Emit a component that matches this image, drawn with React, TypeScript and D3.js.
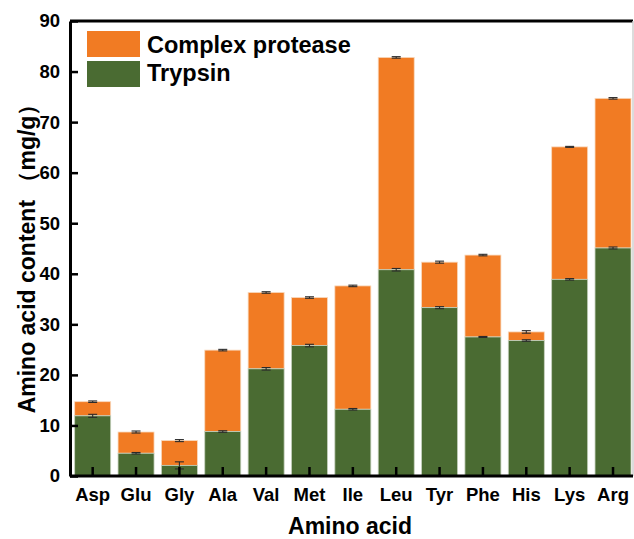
import React, { useRef, useEffect } from 'react';
import * as d3 from 'd3';

// amino acids on x axis
const categories = ['Asp', 'Glu', 'Gly', 'Ala', 'Val', 'Met', 'Ile', 'Leu', 'Tyr', 'Phe', 'His', 'Lys', 'Arg'];
// bottom segment (Trypsin)
const trypsin = [11.9, 4.5, 2.1, 8.8, 21.2, 25.8, 13.2, 40.8, 33.3, 27.5, 26.8, 38.9, 45.1];
const trypsinErr = [0.3, 0.15, 0.7, 0.15, 0.25, 0.25, 0.15, 0.25, 0.2, 0.1, 0.15, 0.15, 0.2];
// top segment (Complex protease), added on top of trypsin
const complexProtease = [2.8, 4.2, 4.9, 16.1, 15.1, 9.5, 24.4, 42.0, 9.0, 16.2, 1.7, 26.2, 29.6];
const complexErr = [0.15, 0.2, 0.2, 0.15, 0.15, 0.15, 0.15, 0.15, 0.2, 0.15, 0.25, 0.1, 0.15];
const yTicks = [0, 10, 20, 30, 40, 50, 60, 70, 80, 90];

const ORANGE = '#F17B23';
const GREEN = '#4A6B32';
const FONT = 'Arial, "Liberation Sans", sans-serif';

const App = () => {
  const svgRef = useRef<SVGSVGElement>(null);
  const width = 634;
  const height = 539;
  const margin = { top: 21, right: 0, bottom: 63, left: 70 };

  useEffect(() => {
    const svg = d3.select(svgRef.current);
    svg.selectAll('*').remove();

    const x = d3.scaleBand().domain(categories).range([71, 634.7]).paddingInner(0.17).paddingOuter(0.085);
    const y = d3.scaleLinear().domain([0, 90]).range([height - margin.bottom, margin.top]);
    const bottomY = height - margin.bottom;

    const rows = categories.map((c, i) => ({
      c,
      t: trypsin[i],
      te: trypsinErr[i],
      total: trypsin[i] + complexProtease[i],
      ce: complexErr[i],
    }));

    // frame lines (top black, right light grey)
    svg.append('line').attr('x1', margin.left).attr('x2', 633).attr('y1', margin.top).attr('y2', margin.top)
      .attr('stroke', '#000').attr('stroke-width', 3);
    svg.append('line').attr('x1', 633).attr('x2', 633).attr('y1', margin.top).attr('y2', bottomY)
      .attr('stroke', '#d0d0d0').attr('stroke-width', 1.5);

    // bars
    const g = svg.append('g');
    g.selectAll('.top').data(rows).enter().append('rect')
      .attr('x', d => x(d.c)!)
      .attr('width', x.bandwidth())
      .attr('y', d => y(d.total))
      .attr('height', d => y(d.t) - y(d.total))
      .attr('fill', ORANGE)
      .attr('stroke', '#f8d9bd').attr('stroke-width', 0.8);
    g.selectAll('.bot').data(rows).enter().append('rect')
      .attr('x', d => x(d.c)!)
      .attr('width', x.bandwidth())
      .attr('y', d => y(d.t))
      .attr('height', d => bottomY - y(d.t))
      .attr('fill', GREEN)
      .attr('stroke', '#c5d0bd').attr('stroke-width', 0.8);

    // error bars
    const drawErr = (cx: number, v: number, e: number) => {
      const eg = svg.append('g').attr('stroke', '#2a2a2a').attr('stroke-width', 1.1);
      eg.append('line').attr('x1', cx).attr('x2', cx).attr('y1', y(v - e)).attr('y2', y(v + e));
      [v - e, v + e].forEach(k => {
        eg.append('line').attr('x1', cx - 4.5).attr('x2', cx + 4.5).attr('y1', y(k)).attr('y2', y(k));
      });
    };
    rows.forEach(d => {
      const cx = x(d.c)! + x.bandwidth() / 2;
      drawErr(cx, d.t, d.te);
      drawErr(cx, d.total, d.ce);
    });

    // y axis
    const ya = svg.append('g').attr('transform', `translate(${margin.left},0)`)
      .call(d3.axisLeft(y).tickValues(yTicks).tickSizeInner(-8).tickSizeOuter(0).tickPadding(10));
    ya.select('.domain').attr('stroke', '#000').attr('stroke-width', 3);
    ya.selectAll('.tick line').attr('stroke-width', 2.5);
    ya.selectAll('text').attr('font-family', FONT).attr('font-weight', 'bold').attr('font-size', 18.5).attr('fill', '#000');

    // x axis
    const xa = svg.append('g').attr('transform', `translate(0,${bottomY})`)
      .call(d3.axisBottom(x).tickSizeInner(-9).tickSizeOuter(0).tickPadding(12));
    xa.select('.domain').attr('d', `M${margin.left},0H633`).attr('stroke', '#000').attr('stroke-width', 3);
    xa.selectAll('.tick line').attr('stroke-width', 2.5);
    xa.selectAll('text').attr('font-family', FONT).attr('font-weight', 'bold').attr('font-size', 18.5).attr('fill', '#000');

    // axis titles
    svg.append('text')
      .attr('x', 350).attr('y', 534)
      .attr('text-anchor', 'middle')
      .attr('font-family', FONT).attr('font-weight', 'bold').attr('font-size', 23)
      .text('Amino acid');
    svg.append('text')
      .attr('transform', `translate(35,253) rotate(-90)`)
      .attr('text-anchor', 'middle')
      .attr('font-family', FONT).attr('font-weight', 'bold').attr('font-size', 23)
      .text('Amino acid content （mg/g）');

    // legend
    const legend = [
      { label: 'Complex protease', color: ORANGE },
      { label: 'Trypsin', color: GREEN },
    ];
    const lg = svg.append('g');
    legend.forEach((l, i) => {
      lg.append('rect').attr('x', 87).attr('y', 31 + i * 30).attr('width', 53).attr('height', 26)
        .attr('fill', l.color);
      lg.append('text').attr('x', 147).attr('y', 53 + i * 28)
        .attr('font-family', FONT).attr('font-weight', 'bold').attr('font-size', 23.5)
        .text(l.label);
    });
  }, []);

  return (
    <svg ref={svgRef} width={width} height={height}
      style={{ position: 'absolute', left: 0, top: 0, background: '#fff' }} />
  );
};

export default App;
